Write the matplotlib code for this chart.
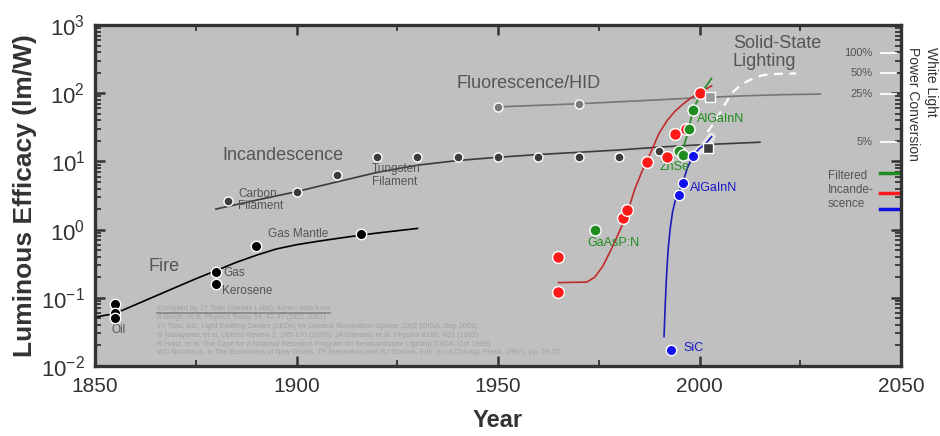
import numpy as np
import matplotlib.pyplot as plt
import matplotlib.transforms as mtransforms

plt.rcParams['font.family'] = ['Liberation Sans', 'DejaVu Sans']
plt.rcParams['mathtext.fontset'] = 'custom'
plt.rcParams['mathtext.rm'] = 'Liberation Sans'
plt.rcParams['mathtext.it'] = 'Liberation Sans:italic'
plt.rcParams['mathtext.bf'] = 'Liberation Sans:bold'

# ---- data (year, lm/W) ----
fire_year = [1855, 1855, 1855, 1880, 1880, 1890, 1916]
fire_lm = [0.08, 0.06, 0.05, 0.24, 0.16, 0.58, 0.85]
fire_fit_year = [1850, 1855, 1860, 1865, 1870, 1875, 1880, 1885, 1890, 1895, 1900, 1905, 1910, 1916, 1920, 1930]
fire_fit_lm = [0.052, 0.059, 0.079, 0.106, 0.142, 0.19, 0.25, 0.33, 0.42, 0.52, 0.6, 0.67, 0.74, 0.83, 0.89, 1.04]

inc_year = [1883, 1900, 1910, 1920, 1930, 1940, 1950, 1960, 1970, 1980, 1990]
inc_lm = [2.6, 3.6, 6.4, 11.7, 11.7, 11.7, 11.7, 11.7, 11.7, 11.7, 14.2]
inc_sq_year = [2002]
inc_sq_lm = [15.5]
inc_fit_year = [1880, 1890, 1900, 1910, 1920, 1930, 1940, 1950, 1960, 1970, 1980, 1990, 2000, 2015]
inc_fit_lm = [2.0, 2.7, 3.6, 5.0, 6.9, 8.8, 10.3, 11.5, 12.6, 13.6, 14.7, 16.2, 17.5, 19.1]

fl_year = [1950, 1970]
fl_lm = [63, 69]
fl_sq_year = [2002.5]
fl_sq_lm = [89]
fl_fit_year = [1950, 1970, 1990, 2000, 2010, 2020, 2030]
fl_fit_lm = [63, 70, 80, 86, 91, 95, 97]

red_year = [1965, 1965, 1981, 1982, 1987, 1992, 1994, 1996.7, 2000]
red_lm = [0.39, 0.12, 1.47, 1.94, 9.9, 11.7, 25, 30, 102]
red_fit_year = [1965, 1972, 1974, 1976, 1978, 1980, 1982, 1984, 1986, 1988, 1990, 1992, 1994, 1996, 1998, 2000, 2003]
red_fit_lm = [0.167, 0.17, 0.2, 0.29, 0.5, 0.9, 1.7, 4.0, 7.8, 14, 26, 40, 55, 70, 86, 102, 128]

green_year = [1974, 1995, 1996, 1997.5, 1998.4]
green_lm = [0.99, 14.4, 12.6, 30, 56]
green_fit_year = [1995, 1996, 1997, 1998, 1999, 2000, 2001, 2003]
green_fit_lm = [11.5, 16, 25, 45, 68, 90, 112, 165]

blue_year = [1993, 1995, 1996, 1998.3]
blue_lm = [0.017, 3.2, 4.8, 12]
blue_fit_year = [1991.2, 1991.5, 1991.8, 1992.2, 1992.7, 1993.3, 1994, 1995, 1996, 1997, 1998.3, 2000, 2001.3, 2003]
blue_fit_lm = [0.027, 0.08, 0.2, 0.5, 1.0, 1.8, 2.7, 3.7, 5.3, 8, 12, 15.5, 17.5, 23]

ssl_year = [2002, 2004, 2005.5, 2008, 2010, 2011.7, 2014, 2016, 2019, 2024]
ssl_lm = [27, 40, 57, 100, 128, 148, 172, 185, 192, 195]
glow_year = [1999.8, 2001.5, 2003]
glow_lm = [14, 17.5, 23]

pct_labels = ['100%', '50%', '25%', '5%']
pct_lm = [390, 198, 97, 19.5]
filt_colors = ['#1e8c1e', '#ff1a1a', '#1010e0']
filt_lm = [6.8, 3.4, 2.0]

refs = ("Compiled by JY Tsao (Sandia Labs); lumen data from:\n"
        "A Bergh, et al, Physics Today 54, 42-47 (DEC 2001)\n"
        "JY Tsao, Ed., Light Emitting Diodes (LEDs) for General Illumination Update 2002 (OIDA, Sep 2002)\n"
        "N Nakayama, et al, Optical Review 2, 165-170 (1995); JA Edmond, et al, Physica B185, 453 (1993)\n"
        "R Haitz, et al, The Case for a National Research Program on Semiconductor Lighting (OIDA, Oct 1999)\n"
        "WD Nordhaus, in The Economics of New Goods, TF Bresnahan and RJ Gordon, Eds. (U of Chicago Press, 1997), pp. 29-70")

# ---- figure ----
fig = plt.figure(figsize=(9.4, 4.36), dpi=100)
ax = fig.add_axes([95/940, 1-366/436, 806/940, 341/436])
ax.set_facecolor('#c0c0c0')
ax.set_yscale('log')
ax.set_xlim(1850, 2050)
ax.set_ylim(1e-2, 1e3)
ax.set_xticks([1850, 1900, 1950, 2000, 2050])
ax.set_xticks([1875, 1925, 1975, 2025], minor=True)

for s in ax.spines.values():
    s.set_linewidth(2.4)
    s.set_color('#333333')
ax.tick_params(which='both', direction='in', top=True, right=True, color='#333333', width=1.8)
ax.tick_params(which='major', length=7)
ax.tick_params(which='minor', length=4, width=1.3)
ax.tick_params(axis='x', labelsize=15, pad=8, labelcolor='#333333')
ax.tick_params(axis='y', labelsize=16, pad=7, labelcolor='#333333')

ax.set_ylabel('Luminous Efficacy (lm/W)', fontsize=19, fontweight='bold', color='#333333')
ax.yaxis.set_label_coords(-0.072, 0.5)
ax.set_xlabel('Year', fontsize=17, fontweight='bold', color='#333333')
ax.xaxis.set_label_coords(0.5, -0.125)

# fitted curves
ax.plot(fire_fit_year, fire_fit_lm, color='black', lw=1.2)
ax.plot(inc_fit_year, inc_fit_lm, color='#3c3c3c', lw=1.2)
ax.plot(fl_fit_year, fl_fit_lm, color='#767676', lw=1.2)
ax.plot(red_fit_year, red_fit_lm, color='#c02a2a', lw=1.2)
ax.plot(green_fit_year, green_fit_lm, color='#1e8c1e', lw=1.2)
ax.plot(glow_year, glow_lm, color='white', lw=6, alpha=0.6, solid_capstyle='round')
ax.plot(blue_fit_year, blue_fit_lm, color='#1c1cb8', lw=1.2)
ax.plot(ssl_year, ssl_lm, color='white', lw=1.6, ls=(0, (4, 3)))

# data points
mk = dict(ls='none', marker='o', mec='white', mew=1.0, zorder=5)
ax.plot(fire_year, fire_lm, color='black', ms=7.5, **mk)
ax.plot(inc_year, inc_lm, color='#3c3c3c', ms=6.5, **mk)
ax.plot(fl_year, fl_lm, color='#7a7a7a', ms=6.5, **mk)
ax.plot(red_year, red_lm, color='#ff1a1a', ms=8.5, **mk)
ax.plot(green_year, green_lm, color='#1e8c1e', ms=8, **mk)
ax.plot(blue_year, blue_lm, color='#1010f0', ms=7.5, **mk)
sq = dict(ls='none', marker='s', mec='white', mew=1.0, ms=6.5, zorder=5)
ax.plot(inc_sq_year, inc_sq_lm, color='#3c3c3c', **sq)
ax.plot(fl_sq_year, fl_sq_lm, color='#9a9a9a', **sq)

# labels
g = '#555555'
ax.text(1863.2, 0.29, 'Fire', fontsize=13, color=g, va='center')
ax.text(1881.5, 12.4, 'Incandescence', fontsize=13, color=g, va='center')
ax.text(1939.8, 141, 'Fluorescence/HID', fontsize=13, color=g, va='center')
ax.text(2008.3, 395, 'Solid-State\nLighting', fontsize=13, color=g, va='center', linespacing=1.1)
ax.text(1885.5, 2.72, 'Carbon\nFilament', fontsize=8.5, color=g, va='center', linespacing=1.1)
ax.text(1918.7, 6.2, 'Tungsten\nFilament', fontsize=8.5, color=g, va='center', linespacing=1.1)
ax.text(1892.9, 0.86, 'Gas Mantle', fontsize=8.5, color=g, va='center')
ax.text(1881.8, 0.231, 'Gas', fontsize=8.5, color=g, va='center')
ax.text(1881.5, 0.126, 'Kerosene', fontsize=8.5, color=g, va='center')
ax.text(1854.2, 0.0337, 'Oil', fontsize=8.5, color=g, va='center')
ax.text(1999.4, 41.9, 'AlGaInN', fontsize=9, color='#1e8c1e', va='center')
ax.text(1990.2, 8.3, 'ZnSe', fontsize=9, color='#1e8c1e', va='center')
ax.text(1997.6, 4.07, 'AlGaInN', fontsize=9, color='#1818c8', va='center')
ax.text(1972.3, 0.64, 'GaAsP:N', fontsize=9, color='#1e8c1e', va='center')
ax.text(1995.9, 0.0184, 'SiC', fontsize=9, color='#1818c8', va='center')

# references
ax.text(0.077, 0.178, refs, transform=ax.transAxes, fontsize=5.3, color='#a2a2a2',
        va='top', ha='left', linespacing=1.36)
ax.plot([0.077, 0.292], [0.156, 0.156], transform=ax.transAxes, color='#858585', lw=1.2)

# right side: power conversion scale
tr = mtransforms.blended_transform_factory(ax.transAxes, ax.transData)
for lab, v in zip(pct_labels, pct_lm):
    ax.text(0.965, v, lab, transform=tr, fontsize=8, color=g, ha='right', va='center')
    ax.plot([0.975, 0.994], [v, v], transform=tr, color='white', lw=1.3)
for c, v in zip(filt_colors, filt_lm):
    ax.plot([0.974, 1.0], [v, v], transform=tr, color=c, lw=2.5)
ax.text(0.909, 3.8, 'Filtered\nIncande-\nscence', transform=tr, fontsize=8.5, color=g,
        ha='left', va='center', linespacing=1.2)
fig.text(922/940, 1-47/436, 'White Light\nPower Conversion', rotation=270, fontsize=10,
         color='#333333', ha='center', va='top', multialignment='left', linespacing=1.3)

fig.savefig('out.png', dpi=100, facecolor='white')
